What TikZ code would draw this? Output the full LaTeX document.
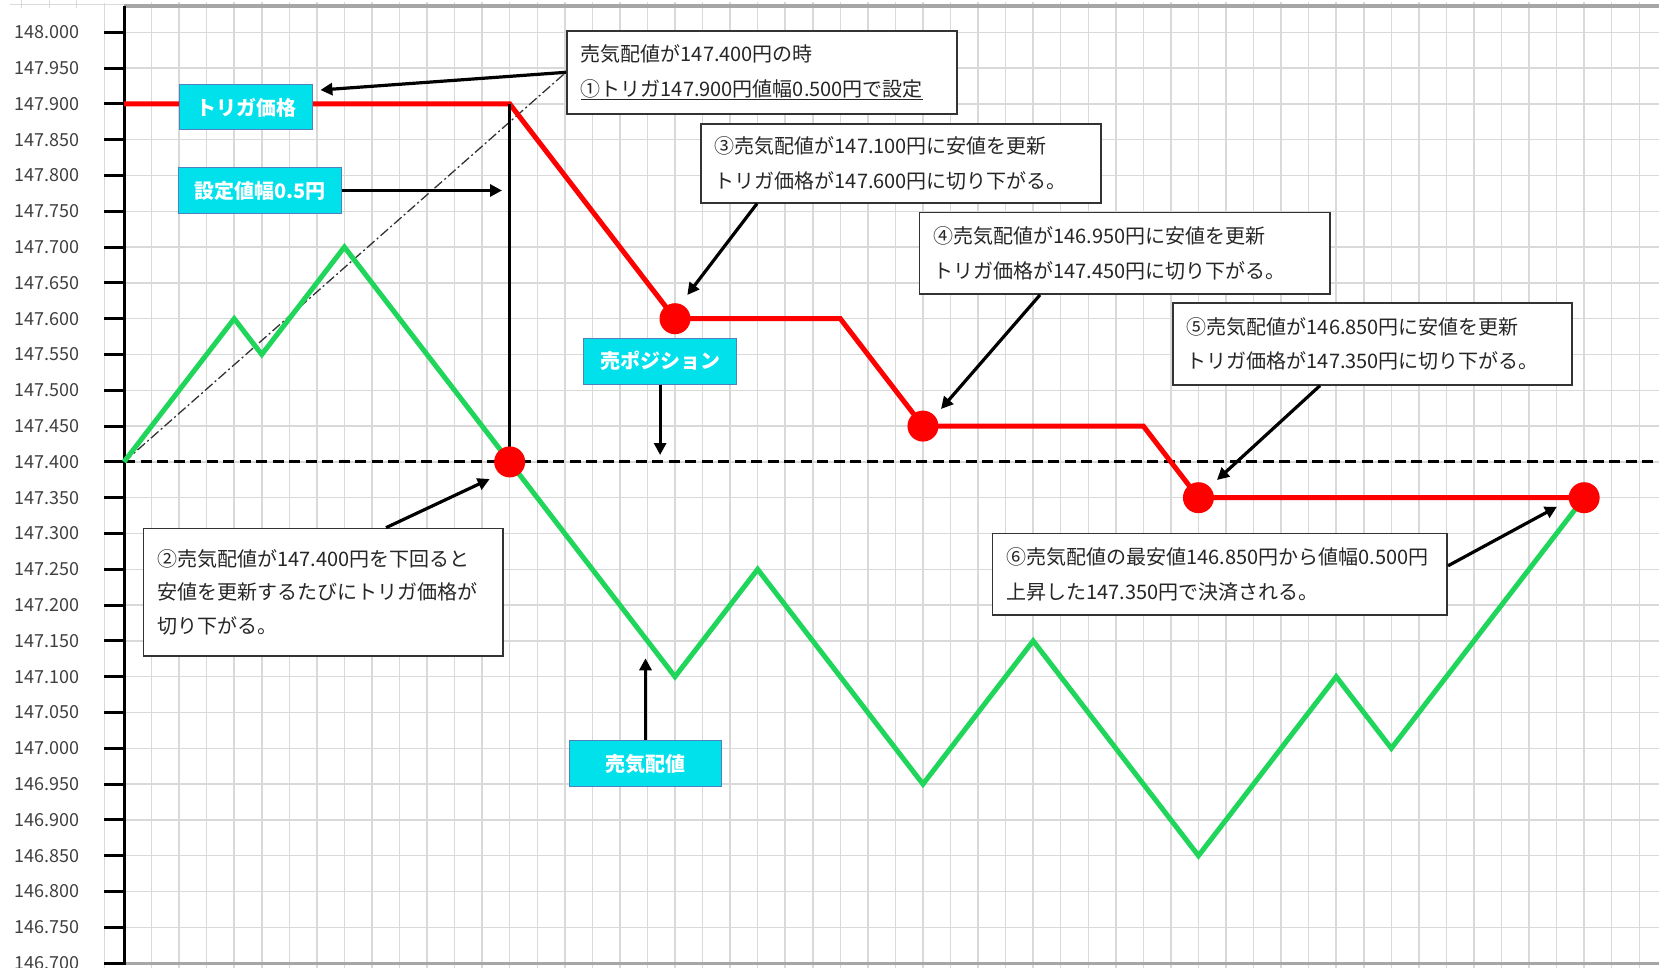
\documentclass[tikz,border=0pt]{standalone}
\usepackage{fontspec}
\newfontfamily\jp{Noto Sans CJK JP}
\usetikzlibrary{arrows.meta}
\definecolor{gridc}{HTML}{D9D9D9}
\definecolor{framec}{HTML}{A6A6A6}
\definecolor{cyanl}{HTML}{00E1EC}
\definecolor{cyanb}{HTML}{4F81BD}
\definecolor{gline}{HTML}{1FD65A}
\definecolor{txt}{HTML}{262626}
\definecolor{ticktxt}{HTML}{404040}
\tikzset{
  gridline/.style={gridc, line width=1.5pt},
  tickmark/.style={black, line width=3pt},
  ticklabel/.style={anchor=east, text=ticktxt, inner sep=0pt, font=\jp\fontsize{18}{18}\selectfont},
  callout/.style={draw=black!80, line width=1.6pt, fill=white, anchor=north west, align=left,
    inner xsep=14pt, inner ysep=0pt, text=txt, font=\jp\fontsize{20}{34.5}\selectfont},
  tag/.style={draw=cyanb, line width=1pt, fill=cyanl, text=white, inner sep=0pt,
    font=\jp\bfseries\fontsize{20}{24}\selectfont},
  pointer/.style={black, line width=3.2pt, -{Triangle[length=12pt,width=12pt]}},
  dot/.style={circle, fill=red, inner sep=0pt, minimum size=31pt},
  redline/.style={red, line width=5pt},
  greenline/.style={gline, line width=5pt}
}
\begin{document}
\begin{tikzpicture}[x=1pt,y=-1pt]
\useasboundingbox (0,0) rectangle (1659,968);
\fill[white] (0,0) rectangle (1659,968);

% spreadsheet stubs top-left
\draw[gridc, line width=1pt] (10,5) -- (124,5);
\foreach \x in {21.5,49,76.5} \draw[gridc, line width=1pt] (\x,0) -- (\x,8);
\draw[gridline] (104.3,3) -- (104.3,968);

% grid
\foreach \k in {1,...,55} \draw[gridline] ({124+27.55*\k},2) -- ({124+27.55*\k},968);
\foreach \j in {0,...,25} \draw[gridline] (124,{32.3+35.8*\j}) -- (1659,{32.3+35.8*\j});

% frame lines
\draw[framec, line width=3.5pt] (124,6) -- (1659,6);
\draw[framec, line width=3.5pt] (124,963.4) -- (1659,963.4);

% axis, ticks and labels
\draw[black, line width=3pt] (124,6) -- (124,964.5);
\foreach \j/\v in {0/148.000,1/147.950,2/147.900,3/147.850,4/147.800,5/147.750,6/147.700,
  7/147.650,8/147.600,9/147.550,10/147.500,11/147.450,12/147.400,13/147.350,14/147.300,
  15/147.250,16/147.200,17/147.150,18/147.100,19/147.050,20/147.000,21/146.950,
  22/146.900,23/146.850,24/146.800,25/146.750,26/146.700} {
  \draw[tickmark] (104,{32.3+35.8*\j}) -- (124,{32.3+35.8*\j});
  \node[ticklabel] (lab\j) at (80,{32.3+35.8*\j}) {\v};
}

% key coordinates
\coordinate (o) at (124,461.9);
\coordinate (rc) at (509.7,103.9);

% position line (147.400)
\draw[black, line width=3pt, dash pattern=on 11pt off 5.5pt] (o) -- (1659,461.9);

% callout box 1 (needed for dash-dot line end)
\node[callout, text width=362pt, minimum height=83pt] (b1) at (566,30)
  {売気配値が147.400円の時\\\underline{①トリガ147.900円値幅0.500円で設定}};

% dash-dot guide
\draw[black!80, line width=1.3pt, dash pattern=on 10pt off 3pt on 2pt off 3pt] (o) -- (b1.west);

% green price line
\draw[greenline] (o) -- (234.2,318.7) -- (261.75,354.5) -- (344.4,247.1) -- (675,676.7)
  -- (757.65,569.3) -- (922.95,784.1) -- (1033.15,640.9) -- (1198.45,855.7)
  -- (1336.2,676.7) -- (1391.3,748.3) -- (1584.15,497.7);

% red trigger line
\draw[redline] (124,103.9) -- (rc) -- (675,318.7) -- (840.3,318.7) -- (922.95,426.1)
  -- (1143.35,426.1) -- (1198.45,497.7) -- (1584.15,497.7);

% vertical width line
\draw[black, line width=3pt] (rc) -- (509.7,461.9);

% dots
\node[dot] (d1) at (509.7,461.9) {};
\node[dot] (d2) at (675,318.7) {};
\node[dot] (d3) at (922.95,426.1) {};
\node[dot] (d4) at (1198.45,497.7) {};
\node[dot] (d5) at (1584.15,497.7) {};

% cyan tags
\node[tag, minimum width=133pt, minimum height=45pt] (tl) at (246,107.5) {トリガ価格};
\node[tag, minimum width=163.6pt, minimum height=45.6pt] (sw) at (260,190.5) {設定値幅0.5円};
\node[tag, minimum width=153.4pt, minimum height=45.7pt] (sp) at (660.1,361.2) {売ポジション};
\node[tag, minimum width=152.4pt, minimum height=46pt] (sk) at (645.5,763.7) {売気配値};

% other callouts
\node[callout, text width=372pt, minimum height=79pt] (b3) at (700,123)
  {③売気配値が147.100円に安値を更新\\トリガ価格が147.600円に切り下がる。};
\node[callout, text width=382.5pt, minimum height=81.6pt] (b4) at (918.5,211.7)
  {④売気配値が146.950円に安値を更新\\トリガ価格が147.450円に切り下がる。};
\node[callout, text width=371pt, minimum height=81.7pt] (b5) at (1172,302.3)
  {⑤売気配値が146.850円に安値を更新\\トリガ価格が147.350円に切り下がる。};
\node[callout, text width=331.3pt, minimum height=127.6pt, font=\jp\fontsize{20}{33.3}\selectfont] (b2) at (142.7,527.7)
  {②売気配値が147.400円を下回ると\\安値を更新するたびにトリガ価格が\\切り下がる。};
\node[callout, text width=426.8pt, minimum height=81.6pt] (b6) at (991.6,532.7)
  {⑥売気配値の最安値146.850円から値幅0.500円\\上昇した147.350円で決済される。};

% arrow targets
\coordinate (t1) at (320.4,90);
\coordinate (t2) at (502,190.5);
\coordinate (t3) at (687.3,295);
\coordinate (t4) at (941,409);
\coordinate (t5) at (1217,480);
\coordinate (t6) at (489.7,479);
\coordinate (t7) at (1557,506.7);
\coordinate (t8) at (660.1,455);
\coordinate (t9) at (645.5,658.3);

% arrows
\draw[pointer] (b1.west) -- (t1);
\draw[pointer] (sw.east) -- (t2);
\draw[pointer] ([xshift=57pt]b3.south west) -- (t3);
\draw[pointer] ([xshift=121.5pt]b4.south west) -- (t4);
\draw[pointer] ([xshift=148pt]b5.south west) -- (t5);
\draw[pointer] ([xshift=243.3pt]b2.north west) -- (t6);
\draw[pointer] ([yshift=8.5pt]b6.east) -- (t7);
\draw[pointer] (sp.south) -- (t8);
\draw[pointer] (sk.north) -- (t9);
\end{tikzpicture}
\end{document}
